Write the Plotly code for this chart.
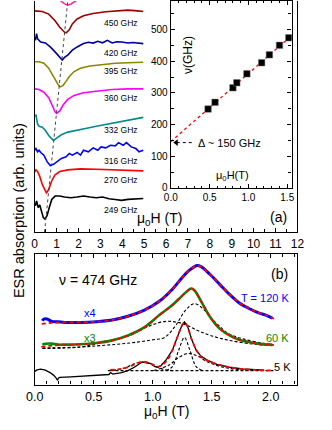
import plotly.graph_objects as go

W, H = 332, 430
FONT = "Liberation Sans, Arial, Helvetica, sans-serif"


def px(x):
    return x / W


def py(y):
    return 1 - y / H


# ---------------- panel (a): inset nu vs H ----------------
freq_GHz = [249, 270, 316, 332, 360, 395, 420, 450, 474]
res_field_T = [0.48, 0.57, 0.80, 0.85, 0.98, 1.17, 1.27, 1.40, 1.52]
fit_field_T = [0.0, 1.557]
fit_freq_GHz = [146, 481]
gap_arrow_T = [0.27, 0.07]
gap_arrow_GHz = [143, 143]

# ---------------- panel (a): spectra (field in T, offset absorption) -------
H474 = [0, 0.8, 1.05, 1.2, 1.35, 1.5, 1.64, 1.78, 1.9, 2.2, 2.8, 3.5, 5.0]
Y474 = [252, 248, 240, 235, 232.3, 230.7, 231.7, 233.3, 235.5, 241, 246, 248, 249]

H450 = [0, 0.35, 0.64, 0.93, 1.145, 1.36, 1.435, 1.58, 1.72, 1.94, 2.23, 2.67,
        3.25, 3.83, 4.26, 4.70, 4.96]
Y450 = [225, 224.3, 221.7, 215, 208.3, 203.3, 202.7, 205.7, 211.7, 216.7, 220,
        222.3, 224, 225, 225.7, 225, 224.3]

H420 = [0.03, 0.087, 0.13, 0.17, 0.275, 0.49, 0.71, 0.93, 1.145, 1.26, 1.36, 1.51,
        1.72, 1.94, 2.23, 2.45, 2.67, 2.88, 3.10, 3.32, 3.54, 3.75, 3.97, 4.26,
        4.48, 4.70, 4.96]
Y420 = [195, 201.7, 196.5, 195.7, 193.3, 192.3, 188.3, 183.3, 177.7, 175, 177.7,
        180, 185, 188.3, 191.7, 193, 192.2, 194, 192.5, 195, 192.3, 193.5, 193.3,
        192.3, 192.8, 192.3, 191.7]

H395 = [0, 0.20, 0.42, 0.64, 0.855, 1.07, 1.17, 1.29, 1.435, 1.58, 1.80, 2.09,
        2.52, 3.10, 3.68, 4.26, 4.96]
Y395 = [173.3, 173.3, 171.7, 166.7, 158.3, 150, 147.7, 149, 153.3, 158.3, 163.3,
        166.7, 169, 170.7, 171.7, 172.3, 172.7]

H360 = [0, 0.20, 0.42, 0.64, 0.78, 0.93, 1.0, 1.145, 1.29, 1.51, 1.80, 2.23, 2.81,
        3.54, 4.26, 4.96]
Y360 = [145.7, 145, 142.3, 136.7, 130, 122.3, 120.7, 123.3, 129, 135, 139, 141.7,
        143.3, 145, 145.7, 145.7]

H332 = [0, 0.058, 0.13, 0.20, 0.35, 0.49, 0.64, 0.78, 0.855, 1.0, 1.22, 1.51, 1.94,
        2.38, 2.81, 3.39, 3.97, 4.55, 4.96]
Y332 = [118.3, 119, 110, 107.7, 106.7, 103.3, 98.3, 94.3, 93.3, 95.7, 99, 101.7,
        104, 105.7, 107.7, 110, 112.3, 115, 116.7]

H316 = [0.0, 0.058, 0.13, 0.20, 0.275, 0.42, 0.565, 0.71, 0.855, 1.0, 1.22, 1.435,
        1.58, 1.72, 1.94, 2.09, 2.23, 2.45, 2.67, 2.88, 3.03, 3.25, 3.46, 3.68,
        3.83, 4.04, 4.19, 4.41, 4.62, 4.77, 4.96]
Y316 = [83.3, 85, 81.7, 83.3, 81, 78.3, 71.7, 67.7, 69, 71.7, 75, 76.7, 80, 78.3,
        81, 78.3, 83.3, 81.7, 85.7, 83.3, 86.7, 85.7, 88.3, 87.7, 91, 88.3, 91,
        86.7, 85, 81.7, 83.3]

H270 = [0, 0.058, 0.13, 0.23, 0.35, 0.46, 0.536, 0.64, 0.78, 0.93, 1.145, 1.51,
        2.09, 2.81, 3.54, 4.26, 4.96]
Y270 = [61, 63.3, 61.7, 56.7, 48.3, 42.3, 40, 43.3, 52.3, 58.3, 61.7, 63.3, 64.3,
        64, 63.3, 62.7, 62.3]

H249 = [0.0, 0.03, 0.087, 0.16, 0.23, 0.30, 0.39, 0.464, 0.565, 0.667, 0.78, 0.93,
        1.145, 1.36, 1.65, 1.94, 2.23, 2.52, 2.81, 3.10, 3.39, 3.68, 3.97, 4.26,
        4.55, 4.96]
Y249 = [30, 26.7, 31.7, 25, 27.7, 21.7, 15, 13.3, 16.7, 25, 33.3, 36.7, 36.7, 35.7,
        35, 35.7, 36.7, 35.7, 35, 35.7, 34, 33.3, 32.3, 33.3, 34, 34.3]

guide_H = [0.45, 1.51]
guide_Y = [0, 235]

spectra = [
    ("474 GHz", H474, Y474, "#ff2a9d"),
    ("450 GHz", H450, Y450, "#990000"),
    ("420 GHz", H420, Y420, "#000099"),
    ("395 GHz", H395, Y395, "#888800"),
    ("360 GHz", H360, Y360, "#ff00ff"),
    ("332 GHz", H332, Y332, "#008b8b"),
    ("316 GHz", H316, Y316, "#0000ff"),
    ("270 GHz", H270, Y270, "#ff0000"),
    ("249 GHz", H249, Y249, "#000000"),
]
spectrum_labels = ["450 GHz", "420 GHz", "395 GHz", "360 GHz", "332 GHz",
                   "316 GHz", "270 GHz", "249 GHz"]
label_y = [212.3, 181.7, 164.3, 136, 104, 72.3, 53.3, 22.7]

# ---------------- panel (b): 474 GHz spectra at 120, 60, 5 K ----------------
Hb120 = [0.0645, 0.078, 0.105, 0.145, 0.199, 0.253, 0.387, 0.522, 0.656, 0.79,
         0.925, 1.059, 1.167, 1.247, 1.301, 1.355, 1.376, 1.409, 1.489, 1.57,
         1.651, 1.731, 1.812, 1.892, 1.973, 2.013]
Yb120 = [65, 66.7, 66.7, 64.3, 64, 63.3, 63.3, 64, 65.7, 69.5, 75.5, 85, 97, 108.5,
         115.5, 120, 121, 120, 111.7, 101.7, 91.7, 83.3, 77.7, 73.3, 70, 67.7]
Hf120 = [0.059, 0.145, 0.253, 0.387, 0.522, 0.656, 0.79, 0.925, 1.059, 1.167,
         1.247, 1.301, 1.355, 1.376, 1.409, 1.489, 1.57, 1.651, 1.731, 1.812,
         1.892, 1.973, 2.027]
Yf120 = [61.7, 62.8, 63.3, 63.5, 64, 65.7, 69.5, 75.5, 85, 97, 108.5, 115.5, 120,
         121, 120, 111.7, 101.7, 91.7, 83.3, 77.7, 73.3, 70, 67]

Hb60 = [0.0645, 0.091, 0.145, 0.199, 0.253, 0.387, 0.522, 0.656, 0.79, 0.925,
        1.059, 1.167, 1.247, 1.301, 1.328, 1.355, 1.409, 1.489, 1.57, 1.651,
        1.731, 1.812, 1.892, 1.973, 2.013]
Yb60 = [40.7, 41.5, 41.7, 40.7, 40.7, 41, 42.3, 45, 50, 58, 71, 81, 90, 96, 97.7,
        95.7, 85, 68.3, 56.7, 50, 45.7, 43.3, 41.7, 40.7, 40.7]
Hf60 = [0.056, 0.145, 0.253, 0.387, 0.522, 0.656, 0.79, 0.925, 1.059, 1.167, 1.247,
        1.301, 1.328, 1.355, 1.409, 1.489, 1.57, 1.651, 1.731, 1.812, 1.892,
        1.973, 2.027]
Yf60 = [38.3, 39.7, 40.3, 41, 42.3, 45, 50, 58, 71, 81, 90, 96, 97.7, 95.7, 85,
        68.3, 56.7, 50, 45.7, 43.3, 41.7, 40.7, 40.3]
Hc60a = [0.0645, 0.387, 0.589, 0.806, 1.005, 1.097, 1.194, 1.274, 1.35, 1.422,
         1.489, 1.57, 1.642, 1.758, 1.927, 2.013]
Yc60a = [37.3, 38.3, 40, 42.3, 45.7, 47.7, 60, 75, 82.3, 77.7, 68.3, 59, 52, 46.7,
         42.3, 40.7]
Hc60b = [0.0645, 0.387, 0.589, 0.806, 0.978, 1.113, 1.247, 1.382, 1.489, 1.651,
         1.866, 2.013]
Yc60b = [36.7, 38.3, 43.3, 50, 60, 64.3, 62.3, 55, 50, 45, 41, 39.7]

Hb5 = [0.0, 0.02, 0.05, 0.09, 0.13, 0.16, 0.18, 0.194, 0.2, 0.212, 0.306, 0.414,
       0.522, 0.629, 0.642, 0.661, 0.737, 0.79, 0.844, 0.911, 0.978, 1.019, 1.046,
       1.073, 1.113, 1.167, 1.207, 1.247, 1.269, 1.296, 1.328, 1.368, 1.409,
       1.462, 1.543, 1.651, 1.758, 1.866, 1.946]
Yb5 = [13.5, 15, 15.7, 14.7, 12.3, 9.7, 7, 4.3, 6.5, 7.3, 8, 8.7, 9.3, 10.3, 12.3,
       10.7, 12.3, 14.3, 17.7, 23, 21.7, 18.3, 17.7, 19.7, 25, 35, 47.7, 60, 63.7,
       59, 46.7, 35, 29, 25, 20.7, 17.7, 16, 15, 14.7]
Hf5 = [0.642, 0.737, 0.817, 0.911, 0.978, 1.046, 1.113, 1.167, 1.207, 1.247, 1.269,
       1.296, 1.328, 1.368, 1.409, 1.489, 1.597, 1.731, 1.866, 2.027]
Yf5 = [15, 16, 19, 23.3, 21.7, 18.3, 23.3, 35, 47.7, 60, 63.3, 59, 46.7, 35.7, 28.3,
       23.3, 19, 16.3, 15, 14.3]
Hc5base = [0.642, 2.027]
Yc5base = [14.3, 14.3]
Hc5g = [0.62, 0.70, 0.79, 0.85, 0.911, 0.97, 1.03, 1.10, 1.17]
Yc5g = [14.3, 15.2, 18.3, 21.7, 22.7, 21.7, 18.3, 15.2, 14.3]
Hc5n = [1.113, 1.167, 1.22, 1.269, 1.315, 1.368, 1.422]
Yc5n = [14.3, 18.3, 35, 48, 35, 18.3, 14.3]
Hc5w = [1.005, 1.14, 1.22, 1.301, 1.382, 1.462, 1.597, 1.758, 1.919]
Yc5w = [14.3, 20, 27.7, 31.7, 29, 23.3, 17.7, 15, 14.3]

fig = go.Figure()

# panel (a) spectra
for name, hx, yy, col in spectra:
    fig.add_trace(go.Scatter(x=hx, y=yy, mode="lines", name=name,
                             line=dict(color=col, width=1.6),
                             xaxis="x", yaxis="y", showlegend=False))
fig.add_trace(go.Scatter(x=guide_H, y=guide_Y, mode="lines",
                         line=dict(color="#444444", width=1, dash="3px,3px"),
                         xaxis="x", yaxis="y", showlegend=False))

# inset
fig.add_trace(go.Scatter(x=fit_field_T, y=fit_freq_GHz, mode="lines",
                         line=dict(color="#ff0000", width=1.3, dash="3px,3px"),
                         xaxis="x2", yaxis="y2", showlegend=False))
fig.add_trace(go.Scatter(x=res_field_T, y=freq_GHz, mode="markers",
                         marker=dict(symbol="square", size=6.5, color="black",
                                     line=dict(color="#777777", width=0.5)),
                         xaxis="x2", yaxis="y2", showlegend=False))
fig.add_trace(go.Scatter(x=gap_arrow_T, y=gap_arrow_GHz, mode="lines",
                         line=dict(color="black", width=1, dash="3px,3px"),
                         xaxis="x2", yaxis="y2", showlegend=False))
fig.add_trace(go.Scatter(x=gap_arrow_T[1:], y=gap_arrow_GHz[1:], mode="markers",
                         marker=dict(symbol="triangle-left", size=6, color="black"),
                         xaxis="x2", yaxis="y2", showlegend=False))

# panel (b)
dash_k = dict(color="black", width=1.1, dash="3px,2px")
for hx, yy in [(Hc60a, Yc60a), (Hc60b, Yc60b), (Hc5base, Yc5base), (Hc5g, Yc5g),
               (Hc5n, Yc5n), (Hc5w, Yc5w)]:
    fig.add_trace(go.Scatter(x=hx, y=yy, mode="lines", line=dash_k,
                             line_shape="spline", xaxis="x3", yaxis="y3",
                             showlegend=False))
fig.add_trace(go.Scatter(x=Hb120, y=Yb120, mode="lines", line_shape="spline",
                         line=dict(color="#0000ff", width=3),
                         xaxis="x3", yaxis="y3", showlegend=False))
fig.add_trace(go.Scatter(x=Hb60, y=Yb60, mode="lines", line_shape="spline",
                         line=dict(color="#008a00", width=2.6),
                         xaxis="x3", yaxis="y3", showlegend=False))
fig.add_trace(go.Scatter(x=Hb5, y=Yb5, mode="lines",
                         line=dict(color="black", width=1.3),
                         xaxis="x3", yaxis="y3", showlegend=False))
for hx, yy in [(Hf120, Yf120), (Hf60, Yf60), (Hf5, Yf5)]:
    fig.add_trace(go.Scatter(x=hx, y=yy, mode="lines", line_shape="spline",
                             line=dict(color="#ff0000", width=1.8, dash="4px,3px"),
                             xaxis="x3", yaxis="y3", showlegend=False))

axis_common = dict(showline=True, linecolor="black", linewidth=1.4,
                   showgrid=False, zeroline=False, ticks="inside",
                   tickcolor="black")

fig.update_layout(
    width=W, height=H, autosize=False,
    margin=dict(l=0, r=0, t=0, b=0),
    paper_bgcolor="white", plot_bgcolor="rgba(0,0,0,0)",
    font=dict(family=FONT, color="black"),
    xaxis=dict(domain=[px(27), px(303)], range=[0, 12], anchor="y", dtick=1,
               tick0=0, ticklen=4,
               minor=dict(dtick=0.5, ticks="inside", ticklen=3, tickcolor="black"),
               tickfont=dict(family=FONT, size=12, color="black"), **axis_common),
    yaxis=dict(domain=[py(235), 1], range=[0, 235], anchor="x", mirror=True,
               showticklabels=False, showline=True, linecolor="black",
               linewidth=1.4, showgrid=False, zeroline=False, ticks=""),
    xaxis2=dict(domain=[px(170), px(297)], range=[0, 1.557], anchor="y2",
                dtick=0.5, tick0=0, tickformat=".1f", ticklen=4, mirror="ticks",
                minor=dict(dtick=0.1, ticks="inside", ticklen=2, tickcolor="black"),
                tickfont=dict(family=FONT, size=10, color="black"), **axis_common),
    yaxis2=dict(domain=[py(190), 1], range=[0, 590], anchor="x2", dtick=100,
                tick0=0, ticklen=4, mirror="ticks",
                minor=dict(dtick=50, ticks="inside", ticklen=3, tickcolor="black"),
                tickfont=dict(family=FONT, size=10, color="black"), **axis_common),
    xaxis3=dict(domain=[px(27), px(303)], range=[0, 2.226], anchor="y3",
                dtick=0.5, tick0=0, tickformat=".1f", ticklen=4, mirror="ticks",
                minor=dict(dtick=0.1, ticks="inside", ticklen=3, tickcolor="black"),
                tickfont=dict(family=FONT, size=12.5, color="black"), **axis_common),
    yaxis3=dict(domain=[py(390), py(257)], range=[0, 133], anchor="x3", mirror=True,
                showticklabels=False, showline=True, linecolor="black",
                linewidth=1.4, showgrid=False, zeroline=False, ticks=""),
)

ann = []


def note(text, x, y, size, color="black", angle=0):
    ann.append(dict(text=text, x=x, y=y, xref="paper", yref="paper",
                    xanchor="center", yanchor="middle", showarrow=False,
                    font=dict(family=FONT, size=size, color=color),
                    textangle=angle))


note("ESR absorption (arb. units)", px(10), py(213), 14.5, angle=-90)
note("μ<sub>0</sub>H (T)", px(158), py(222), 14)
note("(a)", px(283), py(220), 14)
note("ν(GHz)", px(188), py(55), 12, angle=-90)
note("μ<sub>0</sub>H(T)", px(235), py(178), 11)
note("Δ ~ 150 GHz", px(232), py(144), 11)
for t, yv in zip(spectrum_labels, label_y):
    ann.append(dict(text=t, x=3.08, y=yv, xref="x", yref="y", xanchor="left",
                    yanchor="middle", showarrow=False,
                    font=dict(family=FONT, size=8.5, color="black")))
note("ν = 474 GHz", px(94), py(284), 14)
note("(b)", px(284), py(277.7), 14)
note("T = 120 K", px(269), py(301.7), 11, color="#0000ff")
note("60 K", px(282), py(342.3), 11, color="#008a00")
note("5 K", px(287), py(372.3), 11)
note("x4", px(85), py(316.7), 11, color="#0000ff")
note("x3", px(85), py(342.3), 11, color="#008a00")
note("μ<sub>0</sub>H (T)", px(165), py(418), 14)

fig.update_layout(annotations=ann)

fig.write_html("out.html", config={"displayModeBar": False},
               post_script="document.body.style.margin='0';document.body.style.overflow='hidden';")
